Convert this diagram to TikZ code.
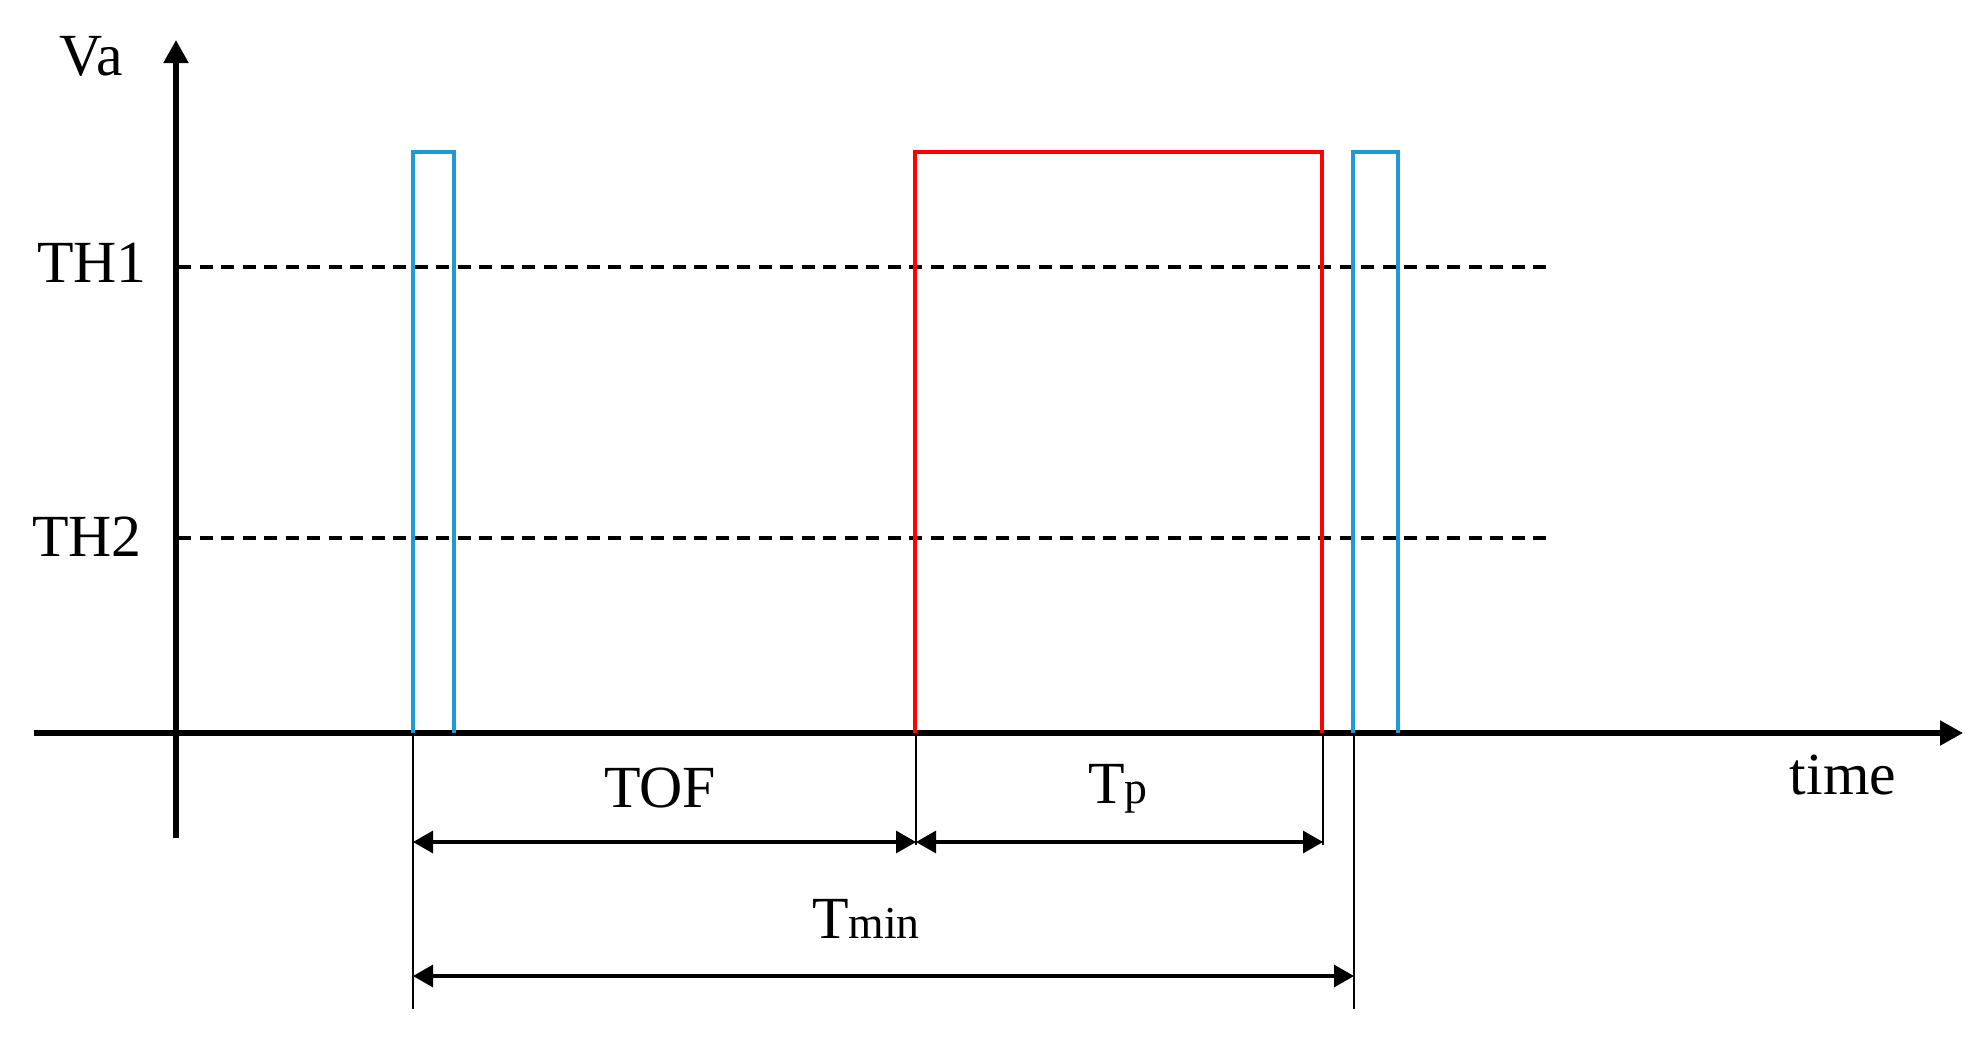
\documentclass[tikz,border=0pt]{standalone}
\usepackage{fontspec}
\setmainfont{Liberation Serif}
\usetikzlibrary{arrows.meta}
\definecolor{pulseblue}{RGB}{30,155,215}
\definecolor{pulsered}{RGB}{255,0,0}
\newcommand{\smallfnt}{\fontsize{13}{15}\selectfont}
\begin{document}
\begin{tikzpicture}[x=0.01cm,y=-0.01cm,
  axisline/.style={line width=1.45pt,-{Triangle[length=0.23cm,width=0.24cm]}},
  thresh/.style={line width=0.9pt,dash pattern=on 0.13cm off 0.085cm},
  bluepulse/.style={line width=1.3pt,draw=pulseblue},
  redpulse/.style={line width=1.3pt,draw=pulsered},
  extline/.style={line width=0.7pt},
  dimline/.style={line width=0.9pt,{Triangle[length=0.2cm,width=0.22cm]}-{Triangle[length=0.2cm,width=0.22cm]}},
  lbl/.style={font=\fontsize{17}{20}\selectfont,inner sep=0pt,anchor=base}]
\useasboundingbox (0,0) rectangle (1985,1038);
% axes
\coordinate (ytop) at (176,40);
\coordinate (ybot) at (176,838);
\coordinate (xl) at (34,733);
\coordinate (xr) at (1963,733);
\draw[axisline] (ybot) -- (ytop);
\draw[axisline] (xl) -- (xr);
% thresholds
\coordinate (th1a) at (178,267);
\coordinate (th1b) at (1547,267);
\coordinate (th2a) at (178,538);
\coordinate (th2b) at (1547,538);
\draw[thresh] (th1a) -- (th1b);
\draw[thresh] (th2a) -- (th2b);
% pulses
\draw[bluepulse] (413,733) -- (413,152) -- (454,152) -- (454,733);
\draw[redpulse] (915,733) -- (915,152) -- (1322,152) -- (1322,733);
\draw[bluepulse] (1353,733) -- (1353,152) -- (1398,152) -- (1398,733);
% extension lines
\coordinate (e1t) at (413,735);
\coordinate (e1b) at (413,1009);
\coordinate (e2t) at (916,735);
\coordinate (e2b) at (916,845);
\coordinate (e3t) at (1323,735);
\coordinate (e3b) at (1323,845);
\coordinate (e4t) at (1354,735);
\coordinate (e4b) at (1354,1009);
\draw[extline] (e1t) -- (e1b);
\draw[extline] (e2t) -- (e2b);
\draw[extline] (e3t) -- (e3b);
\draw[extline] (e4t) -- (e4b);
% dimension arrows
\coordinate (d1a) at (413,842);
\coordinate (d1b) at (916,842);
\coordinate (d2b) at (1323,842);
\coordinate (d3a) at (413,976);
\coordinate (d3b) at (1354,976);
\draw[dimline] (d1a) -- (d1b);
\draw[dimline] (d1b) -- (d2b);
\draw[dimline] (d3a) -- (d3b);
% labels
\node[lbl] (va) at (91,75) {Va};
\node[lbl] (th1) at (92,282) {TH1};
\node[lbl] (th2) at (87,556) {TH2};
\node[lbl] (time) at (1843,794) {time};
\node[lbl] (tof) at (660,807) {TOF};
\node[lbl] (tp) at (1118,803) {T{\smallfnt p}};
\node[lbl] (tmin) at (866,938) {T{\smallfnt min}};
\end{tikzpicture}
\end{document}
